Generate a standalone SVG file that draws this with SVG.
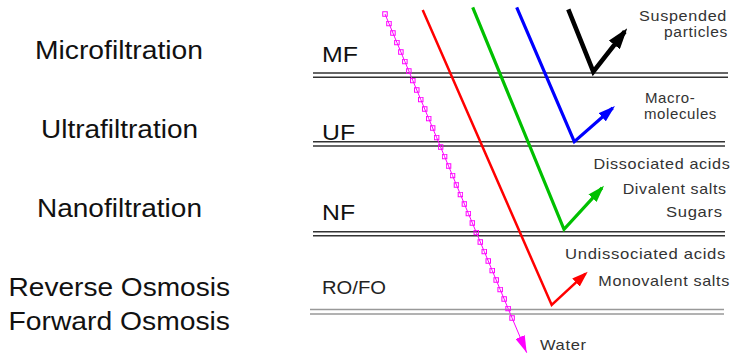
<svg xmlns="http://www.w3.org/2000/svg" width="753" height="364" viewBox="0 0 753 364">
<style>
.big{font-family:"Liberation Sans",Arial,sans-serif;font-size:25px;fill:#111}
.mid{font-family:"Liberation Sans",Arial,sans-serif;font-size:22px;fill:#111}
.ro{font-family:"Liberation Sans",Arial,sans-serif;font-size:19px;fill:#222}
.sm{font-family:"Liberation Sans",Arial,sans-serif;font-size:15px;fill:#333;letter-spacing:0.6px}
.sm2{font-family:"Liberation Sans",Arial,sans-serif;font-size:14px;fill:#333;letter-spacing:0.6px}
.mem{stroke:#333;stroke-width:1.6;fill:none}
.memro{stroke:#999;stroke-width:1.4;fill:none}
.flow{fill:none;stroke-linejoin:miter;stroke-linecap:butt}
</style>
<defs>
<marker id="aR" markerUnits="userSpaceOnUse" viewBox="0 0 16 11" refX="13" refY="5.5" markerWidth="16" markerHeight="11" orient="auto"><path d="M0,0 L16,5.5 L0,11 Z" fill="#ff0000"/></marker>
<marker id="aG" markerUnits="userSpaceOnUse" viewBox="0 0 17 11" refX="14" refY="5.5" markerWidth="17" markerHeight="11" orient="auto"><path d="M0,0 L17,5.5 L0,11 Z" fill="#00c000"/></marker>
<marker id="aB" markerUnits="userSpaceOnUse" viewBox="0 0 17 11" refX="14" refY="5.5" markerWidth="17" markerHeight="11" orient="auto"><path d="M0,0 L17,5.5 L0,11 Z" fill="#0000ff"/></marker>
<marker id="aK" markerUnits="userSpaceOnUse" viewBox="0 0 21 14" refX="17" refY="7" markerWidth="21" markerHeight="14" orient="auto"><path d="M0,0 L21,7 L0,14 Z" fill="#000"/></marker>
<marker id="aM" markerUnits="userSpaceOnUse" viewBox="0 0 17 10" refX="17" refY="5" markerWidth="17" markerHeight="10" orient="auto"><path d="M0,0 L17,5 L0,10 Z" fill="#ff00ff"/></marker>
<marker id="sq" markerUnits="userSpaceOnUse" viewBox="0 0 6 6" refX="3" refY="3" markerWidth="6" markerHeight="6"><rect x="0.75" y="0.75" width="4.5" height="4.5" fill="none" stroke="#ff00ff" stroke-width="1"/></marker>
</defs>

<g id="membranes">
<g id="mf-membrane"><line class="mem" x1="313" y1="73" x2="728" y2="73"/><line class="mem" x1="313" y1="77.3" x2="728" y2="77.3"/></g>
<g id="uf-membrane"><line class="mem" x1="313" y1="141.7" x2="725" y2="141.7"/><line class="mem" x1="313" y1="146" x2="725" y2="146"/></g>
<g id="nf-membrane"><line class="mem" x1="313" y1="231.7" x2="725" y2="231.7"/><line class="mem" x1="313" y1="235.8" x2="725" y2="235.8"/></g>
<g id="ro-membrane"><line class="memro" x1="310" y1="309.5" x2="724" y2="309.5"/><line class="memro" x1="310" y1="314" x2="724" y2="314"/></g>
</g>

<g id="process-labels">
<g id="microfiltration"><text class="big" x="35" y="59" textLength="168" lengthAdjust="spacingAndGlyphs">Microfiltration</text><text class="mid" x="322" y="62" textLength="36" lengthAdjust="spacingAndGlyphs">MF</text></g>
<g id="ultrafiltration"><text class="big" x="41" y="137.5" textLength="157" lengthAdjust="spacingAndGlyphs">Ultrafiltration</text><text class="mid" x="322" y="139.5" textLength="33" lengthAdjust="spacingAndGlyphs">UF</text></g>
<g id="nanofiltration"><text class="big" x="37" y="217" textLength="165" lengthAdjust="spacingAndGlyphs">Nanofiltration</text><text class="mid" x="322" y="219.5" textLength="33" lengthAdjust="spacingAndGlyphs">NF</text></g>
<g id="osmosis"><text class="big" x="8.5" y="295.5" textLength="221.5" lengthAdjust="spacingAndGlyphs">Reverse Osmosis</text><text class="big" x="8.5" y="330" textLength="221.5" lengthAdjust="spacingAndGlyphs">Forward Osmosis</text><text class="ro" x="322" y="294" textLength="64" lengthAdjust="spacingAndGlyphs">RO/FO</text></g>
</g>

<g id="species-labels">
<text class="sm2" x="727" y="21" text-anchor="end" textLength="88" lengthAdjust="spacingAndGlyphs">Suspended</text>
<text class="sm2" x="728" y="37" text-anchor="end" textLength="64" lengthAdjust="spacingAndGlyphs">particles</text>
<text class="sm" x="645" y="103.3">Macro-</text>
<text class="sm" x="644" y="119.3">molecules</text>
<text class="sm" x="593.5" y="169.3" textLength="137" lengthAdjust="spacingAndGlyphs">Dissociated acids</text>
<text class="sm" x="622.7" y="194.3" textLength="104" lengthAdjust="spacingAndGlyphs">Divalent salts</text>
<text class="sm" x="666" y="217.3" textLength="56.7" lengthAdjust="spacingAndGlyphs">Sugars</text>
<text class="sm" x="565" y="259.3" textLength="161" lengthAdjust="spacingAndGlyphs">Undissociated acids</text>
<text class="sm" x="598.3" y="286" textLength="131.7" lengthAdjust="spacingAndGlyphs">Monovalent salts</text>
<text class="sm" x="540" y="350" textLength="46.7" lengthAdjust="spacingAndGlyphs">Water</text>
</g>

<g id="connectors">
<polyline id="water-path" fill="none" stroke="#ff00ff" stroke-width="1" marker-start="url(#sq)" marker-mid="url(#sq)" marker-end="url(#aM)" points="385,14 388.97,23.5 392.94,33 396.91,42.5 400.88,52 404.86,61.5 408.83,71 412.8,80.5 416.77,90 420.74,99.5 424.71,109 428.68,118.5 432.65,128 436.62,137.5 440.59,147 444.57,156.5 448.54,166 452.51,175.5 456.48,185 460.45,194.5 464.42,204 468.39,213.5 472.36,223 476.33,232.5 480.3,242 484.28,251.5 488.25,261 492.22,270.5 496.19,280 500.16,289.5 504.13,299 508.1,308.5 512.07,318 526.7,352.7"/>
<polyline id="red-path" class="flow" stroke="#ff0000" stroke-width="2.5" marker-end="url(#aR)" points="422.7,10 551.7,305 585.5,273.7"/>
<polyline id="green-path" class="flow" stroke="#00c000" stroke-width="3.2" marker-end="url(#aG)" points="472.7,7.3 564,229.3 602,187.9"/>
<polyline id="blue-path" class="flow" stroke="#0000ff" stroke-width="3.2" marker-end="url(#aB)" points="516.7,7.3 574.3,141.7 612.7,108"/>
<polyline id="black-path" class="flow" stroke="#000" stroke-width="4.5" marker-end="url(#aK)" points="568.3,9.3 593.3,71.7 624.8,31.5"/>
</g>
</svg>
